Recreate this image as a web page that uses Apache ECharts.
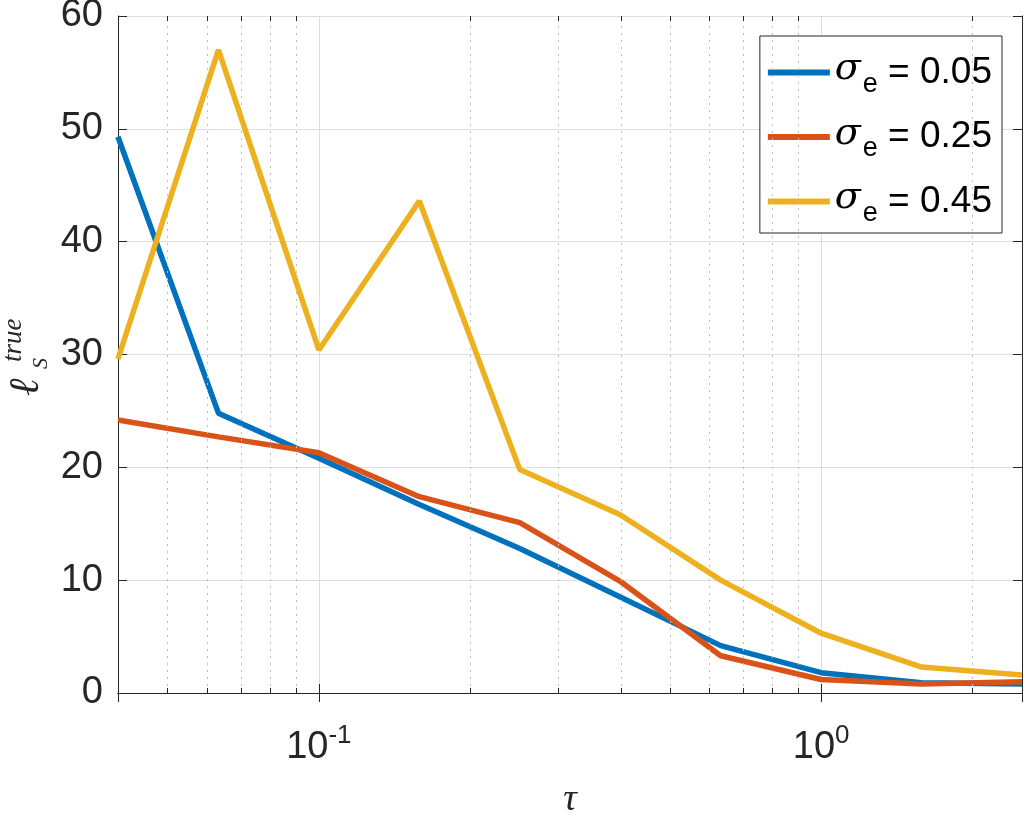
<!DOCTYPE html>
<html>
<head>
<meta charset="utf-8">
<script src="https://cdn.jsdelivr.net/npm/echarts@6/dist/echarts.min.js"></script>
<style>
  html, body { margin: 0; padding: 0; background: #fff; }
  #chart { width: 1028px; height: 817px; }
</style>
</head>
<body>
<div id="chart"></div>
<script>
// tau values, 10 points log-spaced from 10^-1.4 to 10^0.4
const tau = [0.0398, 0.0631, 0.1, 0.1585, 0.2512, 0.3981, 0.631, 1, 1.585, 2.512];
const sigma005 = [49.3, 24.8, 20.8, 16.7, 12.8, 8.5, 4.2, 1.8, 0.9, 0.8];
const sigma025 = [24.2, 22.7, 21.3, 17.4, 15.1, 9.9, 3.3, 1.2, 0.8, 1.0];
const sigma045 = [29.6, 57.0, 30.4, 43.6, 19.8, 15.8, 10.0, 5.3, 2.3, 1.6];
const seriesNames = ['0.05', '0.25', '0.45'];
const minorTicks = [0.05, 0.06, 0.07, 0.08, 0.09, 0.2, 0.3, 0.4, 0.5, 0.6, 0.7, 0.8, 0.9, 2];
const yTicks = [0, 10, 20, 30, 40, 50, 60];

const X_MIN = Math.pow(10, -1.4);
const X_MAX = Math.pow(10, 0.4);
const AXIS_COLOR = '#262626';
const COLORS = ['#0072BD', '#D95319', '#EDB120'];

function pairs(vals) {
  return tau.map((t, i) => [t, vals[i]]);
}

function powLabel(v) {
  const e = Math.log10(v);
  if (Math.abs(e - Math.round(e)) > 1e-6) return '';
  return '{b|10}{sup|' + Math.round(e) + '}';
}

// minor grid + minor ticks drawn through the axis scale
const minorLines = [];
for (const m of minorTicks) {
  minorLines.push({ xAxis: m, lineStyle: { type: [2, 5], color: '#bdbdbd', width: 1 } });
  minorLines.push([{ coord: [m, 0], lineStyle: { type: 'solid', color: AXIS_COLOR, width: 1 } }, { coord: [m, 0.45] }]);
  minorLines.push([{ coord: [m, 60], lineStyle: { type: 'solid', color: AXIS_COLOR, width: 1 } }, { coord: [m, 59.55] }]);
}

const lineSeries = [sigma005, sigma025, sigma045].map((vals, i) => ({
  name: seriesNames[i],
  type: 'line',
  data: pairs(vals),
  showSymbol: false,
  symbol: 'none',
  lineStyle: { width: 5.5, color: COLORS[i] },
  itemStyle: { color: COLORS[i] },
  z: 3 + i,
}));

const chart = echarts.init(document.getElementById('chart'), null, { renderer: 'canvas' });
chart.setOption({
  animation: false,
  backgroundColor: '#fff',
  grid: { left: 118, right: 6, top: 16, bottom: 124, containLabel: false, outerBoundsMode: 'none' },
  xAxis: [{
    type: 'log',
    min: X_MIN,
    max: X_MAX,
    logBase: 10,
    axisLine: { show: true, lineStyle: { color: AXIS_COLOR, width: 1 } },
    axisTick: { show: true, inside: true, length: 9, lineStyle: { color: AXIS_COLOR } },
    splitLine: { show: true, lineStyle: { color: '#dedede', width: 1 } },
    axisLabel: {
      margin: 30,
      formatter: powLabel,
      showMinLabel: false,
      showMaxLabel: false,
      rich: {
        b: { fontSize: 38, fontFamily: 'Liberation Sans, Arial', color: '#262626' },
        sup: { fontSize: 26, fontFamily: 'Liberation Sans, Arial', color: '#262626', padding: [0, 0, 24, 0] },
      },
    },
    name: 'τ',
    nameLocation: 'middle',
    nameGap: 88,
    nameTextStyle: { fontSize: 38, fontStyle: 'italic', fontFamily: 'Liberation Serif, DejaVu Serif', color: '#262626' },
  }, {
    type: 'log',
    position: 'top',
    min: X_MIN,
    max: X_MAX,
    logBase: 10,
    axisLine: { show: true, lineStyle: { color: AXIS_COLOR, width: 1 } },
    axisTick: { show: true, inside: true, length: 9, lineStyle: { color: AXIS_COLOR } },
    splitLine: { show: false },
    axisLabel: { show: false },
  }],
  yAxis: [{
    type: 'value',
    min: 0,
    max: 60,
    interval: 10,
    axisLine: { show: true, lineStyle: { color: AXIS_COLOR, width: 1 } },
    axisTick: { show: true, inside: true, length: 9, lineStyle: { color: AXIS_COLOR } },
    splitLine: { show: true, lineStyle: { color: '#dedede', width: 1 } },
    axisLabel: {
      margin: 15,
      fontSize: 38,
      fontFamily: 'Liberation Sans, Arial',
      color: '#262626',
      formatter: v => yTicks.includes(v) ? String(v) : '',
    },
  }, {
    type: 'value',
    position: 'right',
    min: 0,
    max: 60,
    interval: 10,
    axisLine: { show: true, lineStyle: { color: AXIS_COLOR, width: 1 } },
    axisTick: { show: true, inside: true, length: 9, lineStyle: { color: AXIS_COLOR } },
    splitLine: { show: false },
    axisLabel: { show: false },
  }],
  legend: {
    right: 26,
    top: 36,
    orient: 'vertical',
    backgroundColor: '#fff',
    borderColor: '#262626',
    borderWidth: 1,
    borderRadius: 0,
    padding: [11, 10, 6, 8],
    itemGap: 13.5,
    itemWidth: 62,
    itemHeight: 6,
    icon: 'rect',
    data: seriesNames,
    formatter: n => '{s|σ}{sub|e}{t| = ' + n + '}',
    textStyle: {
      rich: {
        s: { fontSize: 38, fontStyle: 'italic', fontFamily: 'DejaVu Serif', color: '#000', lineHeight: 50, padding: [0, 0, 6, 0] },
        sub: { fontSize: 27, fontFamily: 'Liberation Sans, Arial', color: '#000', lineHeight: 50, padding: [24, 0, 0, 2] },
        t: { fontSize: 37, fontFamily: 'Liberation Sans, Arial', color: '#000', lineHeight: 50 },
      },
    },
  },
  graphic: [{
    type: 'group',
    x: 6,
    y: 396,
    rotation: Math.PI / 2,
    children: [
      { type: 'text', x: 0, y: 0, style: { text: 'ℓ', fontSize: 42, fontStyle: 'italic', fontFamily: 'DejaVu Serif', fill: '#262626', verticalAlign: 'top' } },
      { type: 'text', x: 27, y: 24, style: { text: 'S', fontSize: 22, fontStyle: 'italic', fontFamily: 'Liberation Serif', fill: '#262626', verticalAlign: 'top' } },
      { type: 'text', x: 34, y: -6, style: { text: 'true', fontSize: 27, fontStyle: 'italic', fontFamily: 'Liberation Serif', fill: '#262626', verticalAlign: 'top' } },
    ],
  }],
  series: [
    ...lineSeries,
    {
      type: 'line',
      data: [],
      silent: true,
      z: 1,
      markLine: {
        silent: true,
        symbol: 'none',
        label: { show: false },
        animation: false,
        data: minorLines,
      },
    },
  ],
});
</script>
</body>
</html>
